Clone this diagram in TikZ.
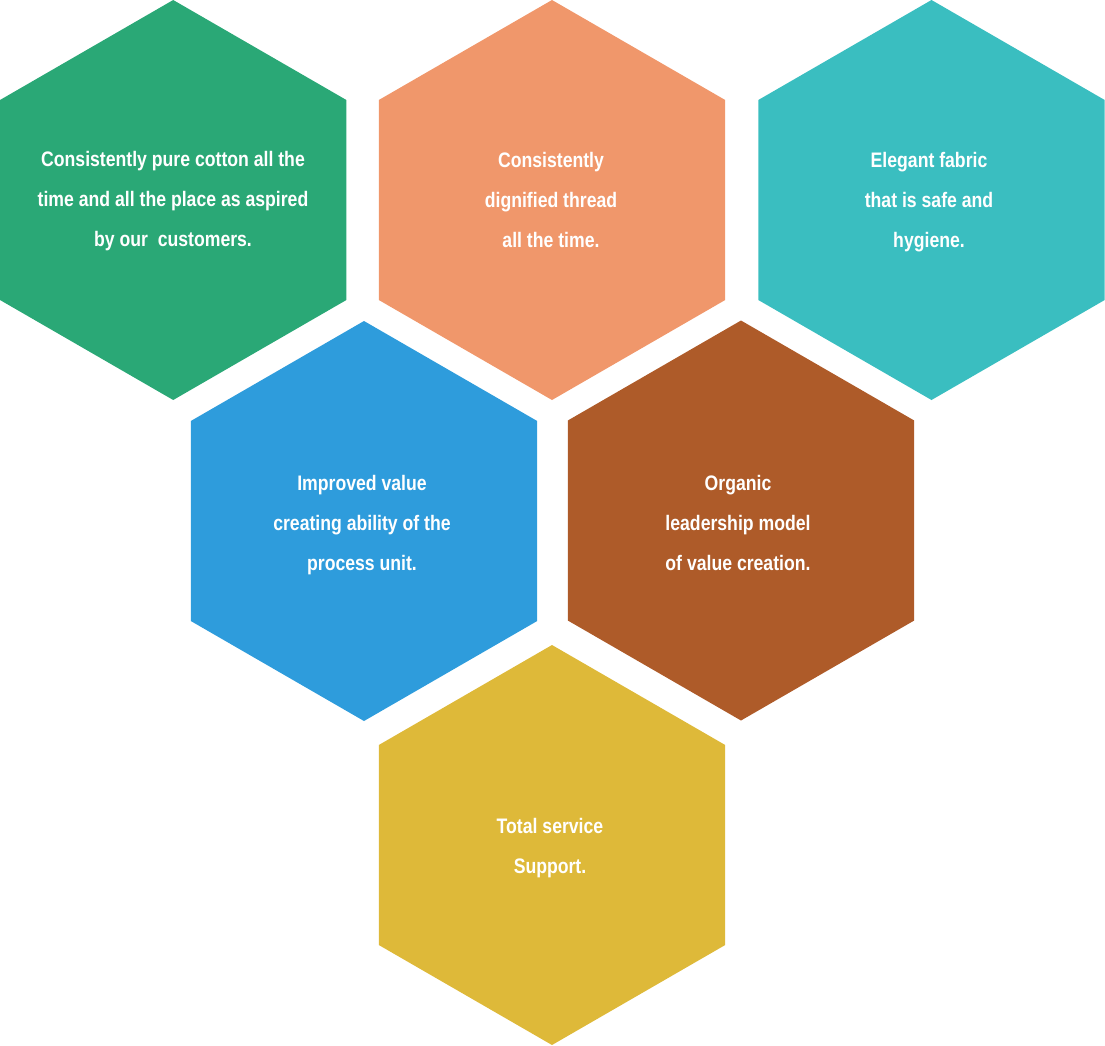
\documentclass[tikz,border=0pt]{standalone}
\usepackage{fontspec}
\setmainfont{Liberation Sans}[BoldFont={Liberation Sans Bold},BoldFeatures={FakeStretch=0.84}]
\definecolor{hgreen}{RGB}{42,168,118}
\definecolor{horange}{RGB}{240,151,107}
\definecolor{hteal}{RGB}{58,190,192}
\definecolor{hblue}{RGB}{46,156,220}
\definecolor{hbrown}{RGB}{174,91,41}
\definecolor{hyellow}{RGB}{222,185,57}
\newcommand\hexfill[3]{\fill[#3] (#1,#2-200) -- (#1+173.2,#2-100) -- (#1+173.2,#2+100) -- (#1,#2+200) -- (#1-173.2,#2+100) -- (#1-173.2,#2-100) -- cycle;}
\tikzset{lbl/.style={text=white, align=center, anchor=base, inner sep=0pt,
  font=\fontsize{21}{40}\selectfont\bfseries}}
\begin{document}
\begin{tikzpicture}[x=1pt,y=-1pt]
\useasboundingbox (0,0) rectangle (1105,1045);
\hexfill{173.2}{200}{hgreen}
\hexfill{552}{200}{horange}
\hexfill{931.5}{200}{hteal}
\hexfill{364}{521}{hblue}
\hexfill{741}{520.5}{hbrown}
\hexfill{552}{845}{hyellow}
\node[lbl] (tg) at (173,246) {Consistently pure cotton all the\\time and all the place as aspired\\by our\ \ customers.};
\node[lbl] (to) at (551,247) {Consistently\\dignified thread\\ all the time.};
\node[lbl] (tt) at (929,247) {Elegant fabric\\that is safe and\\hygiene.};
\node[lbl] (tb) at (362,570) {Improved value\\creating ability of the\\process unit.};
\node[lbl] (tr) at (738,570) {Organic\\leadership model\\of value creation.};
\node[lbl] (ty) at (550,873) {Total service\\ Support.};
\end{tikzpicture}
\end{document}
